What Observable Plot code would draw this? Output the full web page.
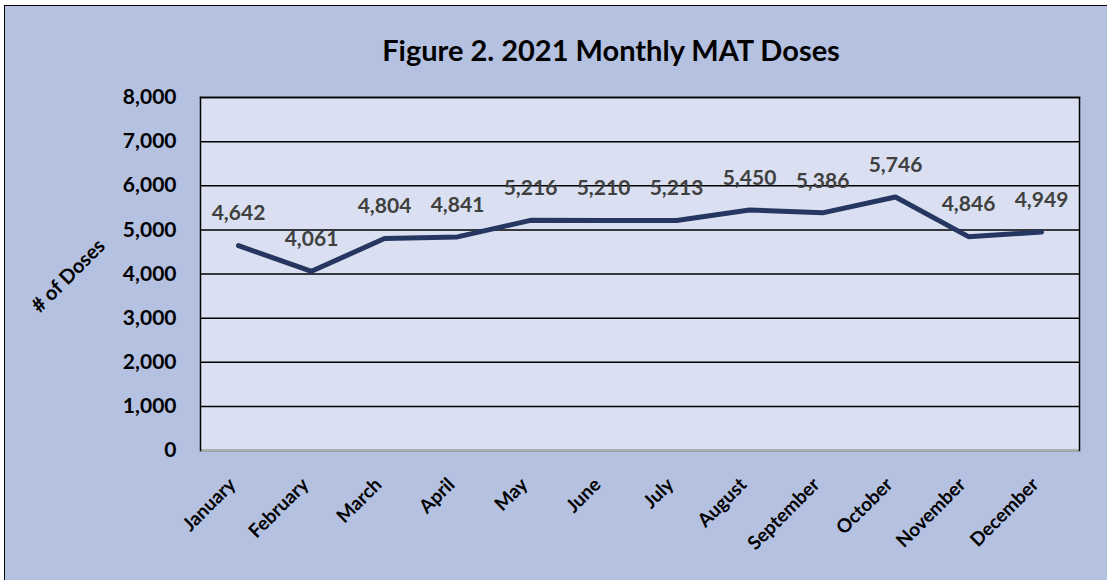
<!DOCTYPE html>
<html>
<head>
<meta charset="utf-8">
<script src="https://cdn.jsdelivr.net/npm/d3@7"></script>
<script src="https://cdn.jsdelivr.net/npm/@observablehq/plot@0.6"></script>
<style>
  html, body { margin: 0; padding: 0; background: #ffffff; }
  #wrap { position: relative; width: 1107px; height: 580px; overflow: hidden; }
  #bg { position: absolute; left: 4px; top: 5px; width: 1110px; height: 580px; background: #b5c1e0; border: 1px solid #000; box-sizing: border-box; }
  #title { position: absolute; left: 0; top: 33px; width: 1222px; text-align: center; font-family: Lato, "Open Sans", sans-serif; font-weight: bold; font-size: 29px; color: #000; line-height: 34px; }
  #chart { position: absolute; left: 0; top: 0; }
  svg { font-family: Lato, "Open Sans", sans-serif; }
</style>
</head>
<body>
<div id="wrap">
  <div id="bg"></div>
  <div id="title">Figure 2. 2021 Monthly MAT Doses</div>
  <div id="chart"></div>
</div>
<script>
const months = ["January","February","March","April","May","June","July","August","September","October","November","December"];
const doses = [4642, 4061, 4804, 4841, 5216, 5210, 5213, 5450, 5386, 5746, 4846, 4949];
const yTicks = [0, 1000, 2000, 3000, 4000, 5000, 6000, 7000, 8000];
const yTitle = "# of Doses";

const data = months.map((m, i) => ({month: m, value: doses[i]}));
const fmt = d3.format(",");

const chart = Plot.plot({
  width: 1107,
  height: 580,
  marginLeft: 200,
  marginRight: 28,
  marginTop: 97,
  marginBottom: 130,
  style: {background: "transparent", overflow: "visible"},
  x: {type: "point", domain: months, padding: 0.5, label: null},
  y: {domain: [0, 8000], ticks: yTicks, label: null, tickFormat: fmt},
  marks: [
    Plot.frame({fill: "#dae0f1"}),
    Plot.ruleY(yTicks, {stroke: "#000", strokeWidth: 1.5}),
    Plot.ruleY([0], {stroke: "#b0b0b0", strokeWidth: 2}),
    Plot.frame({stroke: "#000", strokeWidth: 1.5, anchor: "left"}),
    Plot.frame({stroke: "#000", strokeWidth: 1.5, anchor: "right"}),
    Plot.frame({stroke: "#000", strokeWidth: 1.5, anchor: "top"}),
    Plot.axisY({ticks: yTicks, tickSize: 0, tickPadding: 24, tickFormat: fmt, fontSize: 21, fontWeight: "bold", fill: "#000", label: null}),
    Plot.axisX({tickSize: 0, tickRotate: -45, tickPadding: 31, fontSize: 19, fontWeight: "bold", fill: "#000", label: null, dx: -6}),
    Plot.text([yTitle], {frameAnchor: "left", textAnchor: "middle", dx: -132, dy: 2, rotate: -45, fontSize: 20, fontWeight: "bold", fill: "#000"}),
    Plot.line(data, {x: "month", y: "value", stroke: "#253760", strokeWidth: 5, strokeLinejoin: "miter"}),
    Plot.text(data, {x: "month", y: "value", text: d => fmt(d.value), dy: -32, fontSize: 21, fontWeight: "bold", fill: "#404040"})
  ]
});
document.getElementById("chart").appendChild(chart);
</script>
</body>
</html>
